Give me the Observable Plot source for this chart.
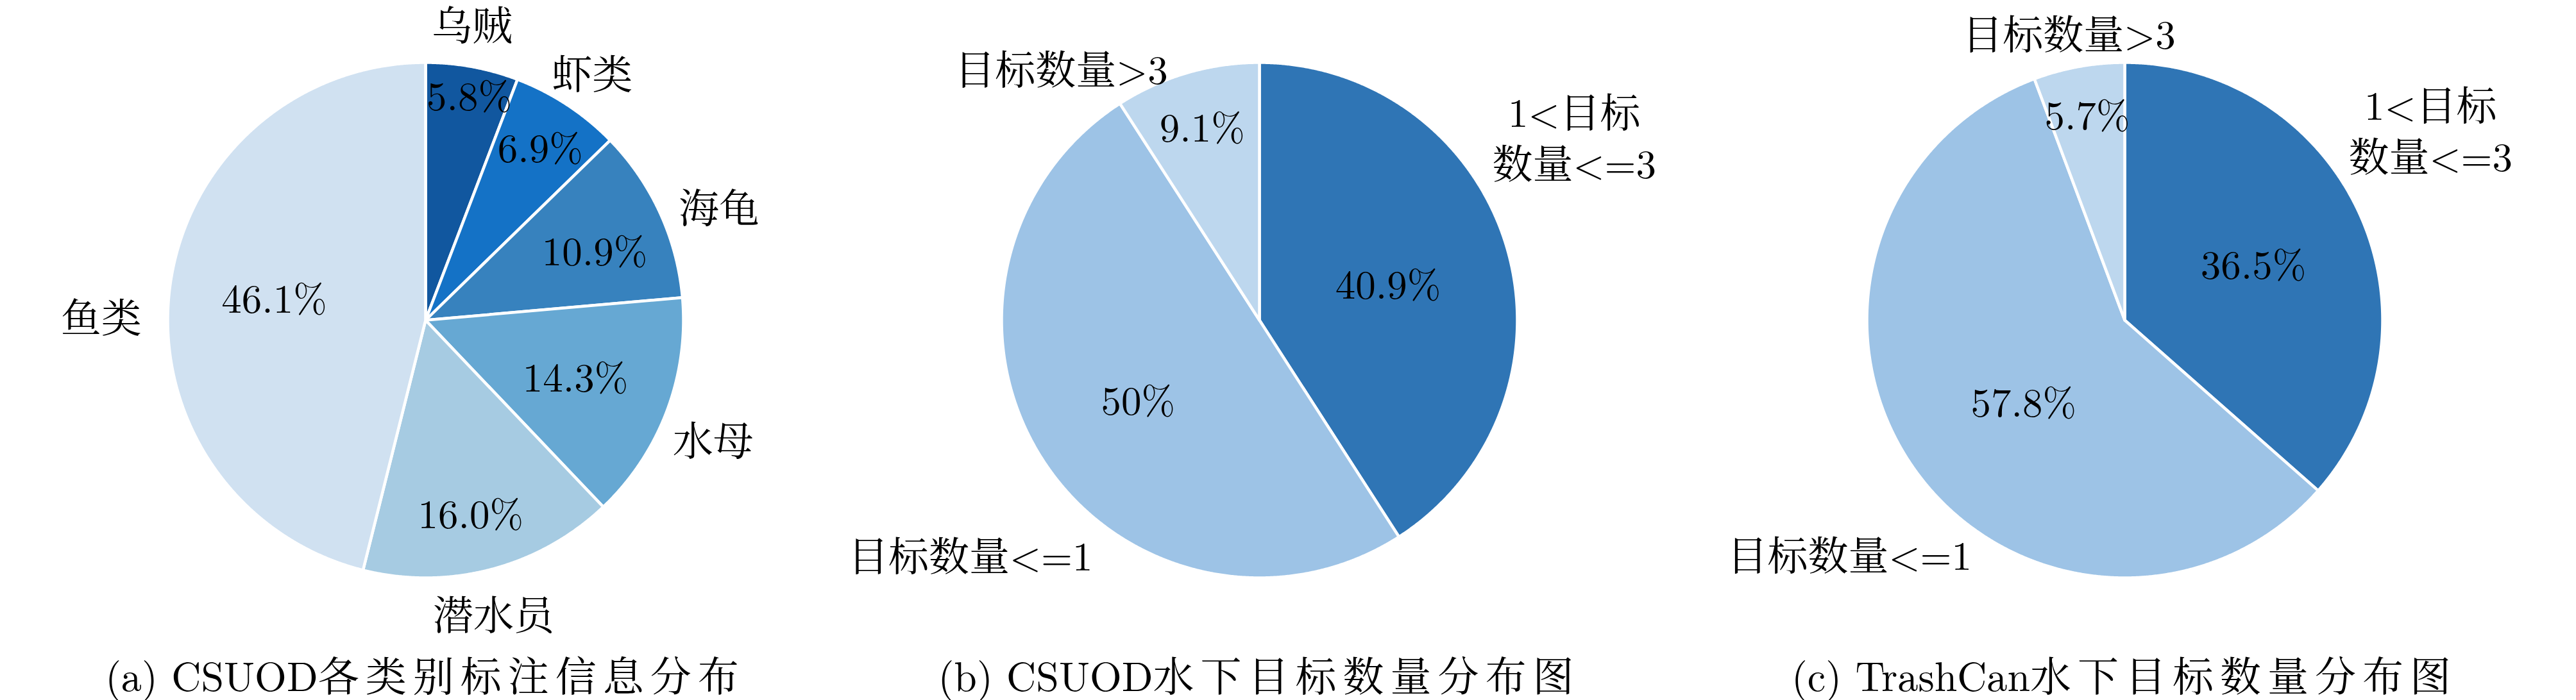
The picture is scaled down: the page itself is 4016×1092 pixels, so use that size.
<!DOCTYPE html>
<html>
<head>
<meta charset="utf-8">
<script src="https://cdn.jsdelivr.net/npm/d3@7"></script>
<script src="https://cdn.jsdelivr.net/npm/@observablehq/plot@0.6"></script>
<style>
html, body { margin: 0; padding: 0; background: #ffffff; }
#wrap { width: 4016px; height: 1092px; position: relative; overflow: hidden; }
#caps { position: relative; width: 4016px; height: 92px; }
.cap { position: absolute; top: 52px; transform: translate(-50%, -50%); white-space: nowrap;
       font-size: 64px; line-height: 1; color: #000;
       font-family: "Latin Modern Roman", "CMU Serif", "Liberation Serif", "Noto Serif CJK SC", "Noto Sans CJK SC", serif; }
.cap .cjk { letter-spacing: 10px; }
</style>
</head>
<body>
<div id="wrap"></div>
<script>
// ---------------- data ----------------
const catsA = ["乌贼", "虾类", "海龟", "水母", "潜水员", "鱼类"];
const valsA = [5.8, 6.9, 10.9, 14.3, 16.0, 46.1];
const catsB = ["1<目标\n数量<=3", "目标数量<=1", "目标数量>3"];
const valsB = [40.9, 50, 9.1];
const catsC = ["1<目标\n数量<=3", "目标数量<=1", "目标数量>3"];
const valsC = [36.5, 57.8, 5.7];
const captions = ["(a) CSUOD各类别标注信息分布", "(b) CSUOD水下目标数量分布图", "(c) TrashCan水下目标数量分布图"];

// ---------------- styles / layout ----------------
const colorsA = ["#11579f", "#1472c6", "#3782be", "#66a8d3", "#a6cbe2", "#d0e1f1"];
const colorsBC = ["#2f75b5", "#9dc3e6", "#bdd7ee"];
const W = 4016, H = 1000, R = 402;
const FONT = '"Latin Modern Roman", "CMU Serif", "Liberation Serif", "Noto Serif CJK SC", "Noto Sans CJK SC", serif';
const layout = [
  {id: "a", cats: catsA, vals: valsA, colors: colorsA, cx: 663, cy: 499, fmt: v => d3.format(".1f")(v) + "%",
   outK: [1.2, 1.2, 1.2, 1.2, 1.2, 1.2],
   outNudge: [[-15, 11], [-5, 16], [19, 23], [-3, 14], [-17, -10], [-27, 52]],
   inK: [0.892, 0.81, 0.713, 0.618, 0.764, 0.594],
   inNudge: [[3, 0], [0, 0], [3, 8], [1, -2], [-8, 2], [1, -8]]},
  {id: "b", cats: catsB, vals: valsB, colors: colorsBC, cx: 1963, cy: 499, fmt: v => v + "%",
   outK: [1.2, 1.2, 1.2],
   outNudge: [[28, -151], [-45, 104], [-173, 69]],
   inK: [0.52, 0.56, 0.788],
   inNudge: [[0, 0], [0, 0], [0, 0]]},
  {id: "c", cats: catsC, vals: valsC, colors: colorsBC, cx: 3312, cy: 499, fmt: v => v + "%",
   outK: [1.2, 1.2, 1.2],
   outNudge: [[37, -100], [-32, 90], [-1, 26]],
   inK: [0.547, 0.498, 0.817],
   inNudge: [[0, 0], [7, 11], [0, 0]]}
];

// ---------------- derived geometry ----------------
const slicePts = [];
const labels = [];
const colorDomain = [], colorRange = [];
const pieGen = d3.pie().sort(null).value(d => d);
for (const p of layout) {
  const arcs = pieGen(p.vals);
  arcs.forEach((a, i) => {
    const key = p.id + ":" + p.cats[i];
    colorDomain.push(key); colorRange.push(p.colors[i]);
    const pt = (ang, rr) => ({x: p.cx + rr * Math.sin(ang), y: p.cy - rr * Math.cos(ang)});
    slicePts.push({key, x: p.cx, y: p.cy});
    const n = Math.max(2, Math.ceil((a.endAngle - a.startAngle) / (Math.PI / 720)));
    for (let k = 0; k <= n; k++) {
      const ang = a.startAngle + (a.endAngle - a.startAngle) * k / n;
      slicePts.push({key, ...pt(ang, R)});
    }
    slicePts.push({key, x: p.cx, y: p.cy});
    const mid = (a.startAngle + a.endAngle) / 2;
    const o = pt(mid, R * p.outK[i]);
    labels.push({x: o.x + p.outNudge[i][0], y: o.y + p.outNudge[i][1], text: p.cats[i]});
    const q = pt(mid, R * p.inK[i]);
    labels.push({x: q.x + p.inNudge[i][0], y: q.y + p.inNudge[i][1], text: p.fmt(p.vals[i])});
  });
}

const chart = Plot.plot({
  width: W, height: H, margin: 0,
  x: {domain: [0, W], range: [0, W], axis: null},
  y: {domain: [0, H], range: [0, H], axis: null},
  color: {domain: colorDomain, range: colorRange},
  style: {background: "#ffffff"},
  marks: [
    Plot.line(slicePts, {x: "x", y: "y", z: "key", fill: "key", stroke: "#ffffff", strokeWidth: 4.5, curve: "linear"}),
    Plot.text(labels, {x: "x", y: "y", text: "text", fontSize: 63, fontFamily: FONT, fill: "#000000", lineHeight: 1.27})
  ]
});
const wrap = document.getElementById("wrap");
wrap.appendChild(chart);

const caps = document.createElement("div");
caps.id = "caps";
captions.forEach((c, i) => {
  const m = c.match(/^[\x00-\x7F]+/);
  const latin = m ? m[0] : "";
  const cjk = c.slice(latin.length);
  const el = document.createElement("div");
  el.className = "cap";
  el.style.left = layout[i].cx + "px";
  const s1 = document.createElement("span"); s1.textContent = latin;
  const s2 = document.createElement("span"); s2.className = "cjk"; s2.textContent = cjk;
  el.appendChild(s1); el.appendChild(s2);
  caps.appendChild(el);
});
wrap.appendChild(caps);
</script>
</body>
</html>
